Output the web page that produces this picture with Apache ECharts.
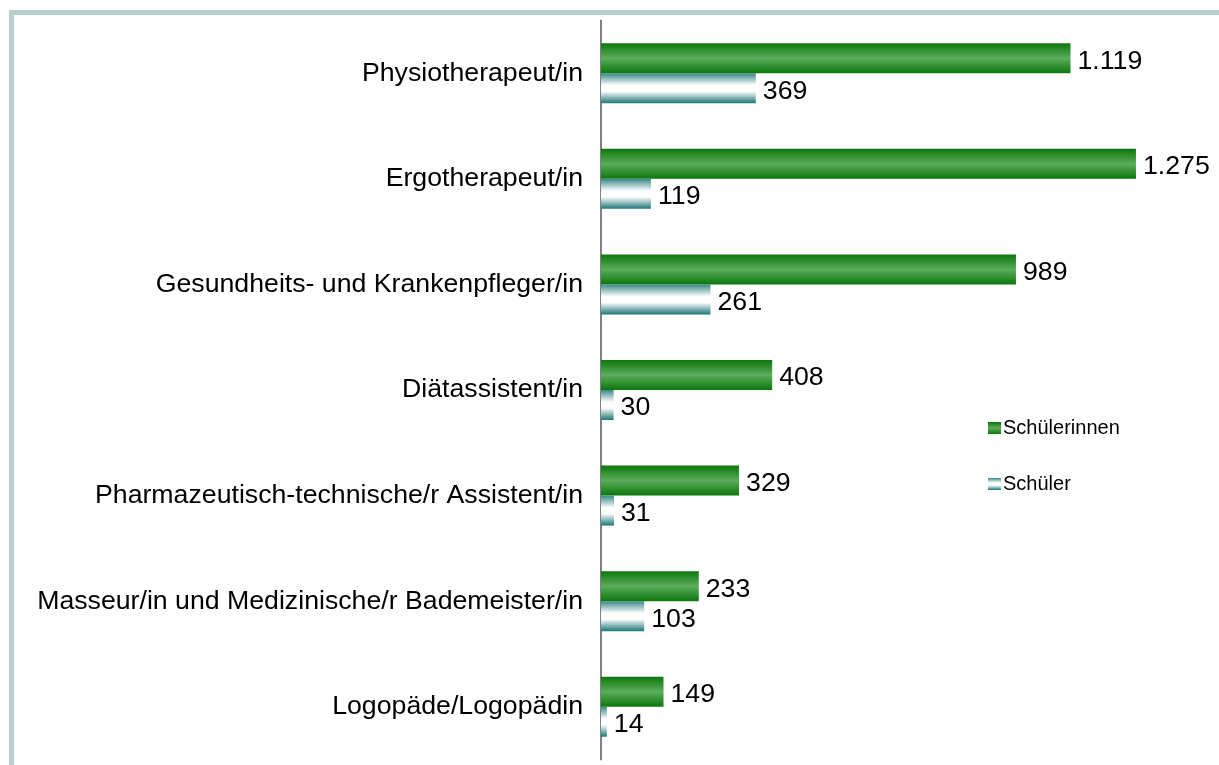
<!DOCTYPE html>
<html>
<head>
<meta charset="utf-8">
<script src="https://cdn.jsdelivr.net/npm/echarts@6/dist/echarts.min.js"></script>
<style>
html,body{margin:0;padding:0;background:#fff;}
#chart{width:1219px;height:765px;}
</style>
</head>
<body>
<div id="chart"></div>
<script>
const categories = [
  "Physiotherapeut/in",
  "Ergotherapeut/in",
  "Gesundheits- und Krankenpfleger/in",
  "Diätassistent/in",
  "Pharmazeutisch-technische/r Assistent/in",
  "Masseur/in und Medizinische/r Bademeister/in",
  "Logopäde/Logopädin"
];
const schuelerinnen = [1119, 1275, 989, 408, 329, 233, 149];
const schueler = [369, 119, 261, 30, 31, 103, 14];
const seriesNames = ["Schülerinnen", "Schüler"];

const FONT = "'Liberation Sans', Arial, sans-serif";
function fmt(v){ return String(v).replace(/\B(?=(\d{3})+(?!\d))/g, "."); }

const greenGrad = new echarts.graphic.LinearGradient(0,0,0,1,[
  {offset:0, color:'#0b760b'},
  {offset:0.5, color:'#5cad5c'},
  {offset:1, color:'#0b760b'}
]);
const whiteGrad = new echarts.graphic.LinearGradient(0,0,0,1,[
  {offset:0, color:'#3a8686'},
  {offset:0.4, color:'#ffffff'},
  {offset:0.6, color:'#ffffff'},
  {offset:1, color:'#1c7676'}
]);

const chart = echarts.init(document.getElementById('chart'), null, {renderer:'canvas'});
const labelCfg = {
  show:true, position:'right', distance:7, offset:[0,3],
  fontSize:26.7, color:'#000', fontFamily:FONT,
  formatter: p => fmt(p.value)
};
chart.setOption({
  animation:false,
  backgroundColor:'#fff',
  graphic:[
    {type:'rect', left:9, top:10, shape:{width:5, height:755}, style:{fill:'#b7d0cf'}},
    {type:'rect', left:9, top:10, shape:{width:1210, height:5}, style:{fill:'#b7d0cf'}}
  ],
  legend:{
    orient:'vertical', left:983, top:413,
    itemWidth:13, itemHeight:12, itemGap:36,
    icon:'rect',
    textStyle:{fontSize:20, color:'#000', fontFamily:FONT, padding:[0,0,0,-3]},
    data:seriesNames
  },
  grid:{left:601, top:20.5, width:587.4, height:739},
  xAxis:{type:'value', min:0, max:1400, show:false},
  yAxis:{
    type:'category', inverse:true, data:categories,
    axisLine:{show:true, lineStyle:{color:'#808080', width:2}},
    axisTick:{show:false},
    axisLabel:{fontSize:26.7, color:'#000', fontFamily:FONT, margin:18, padding:[6,0,0,0]},
    splitLine:{show:false}
  },
  series:[
    {name:seriesNames[0], type:'bar', data:schuelerinnen, barWidth:30, barGap:'0%',
     itemStyle:{color:greenGrad}, label:labelCfg},
    {name:seriesNames[1], type:'bar', data:schueler, barWidth:30, barGap:'0%',
     itemStyle:{color:whiteGrad}, label:labelCfg}
  ]
});
</script>
</body>
</html>
